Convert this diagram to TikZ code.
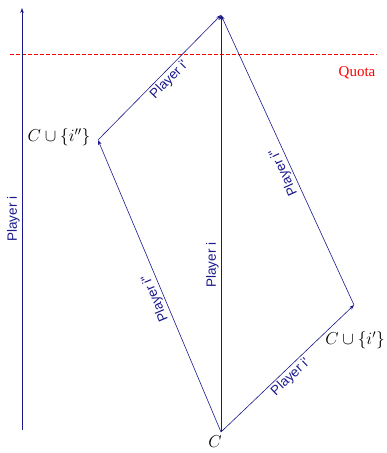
\documentclass[tikz,border=0pt]{standalone}
\usepackage{fontspec}
\setmainfont{Liberation Serif}
\setsansfont{Liberation Sans}
\usetikzlibrary{positioning, calc, arrows.meta}
\definecolor{navy}{RGB}{25,25,140}

\begin{document}
\begin{tikzpicture}[x=1pt, y=-1pt, line width=0.6pt,
    every node/.style={font=\fontsize{18}{20}\selectfont},
    edge/.style={draw=navy, -{Stealth[length=5pt, width=3.6pt]}},
    player/.style={font=\sffamily\fontsize{13.5}{15}\selectfont, text=navy, sloped, allow upside down, inner sep=2pt}]
    \useasboundingbox (0,0) rectangle (387,453);

    \coordinate (C) at (221,432);
    \coordinate (L) at (98,140);
    \coordinate (R) at (354,305);
    \coordinate (T) at (221,15);
    \coordinate (a0) at (22,430);
    \coordinate (a1) at (22,8);

    % quota
    \draw[red, dash pattern=on 4pt off 2pt] (10,54) -- (377,54);
    \node[text=red, font=\fontsize{15}{17}\selectfont] (quota) at (357,73) {Quota};

    % coalitions
    \node[anchor=north] (cC) at (215,432) {$C$};
    \node[anchor=east] (cL) at (94,137) {$C\cup\{i''\}$};
    \node (cR) at (355,340) {$C\cup\{i'\}$};

    % players
    \draw[edge] (a0) -- node[player, above] {Player i} (a1);
    \draw[edge] (C) -- node[player, above, pos=0.4] {Player i} (T);
    \draw[edge] (C) -- node[player, above, pos=0.47] {Player i\textquotesingle\textquotesingle} (L);
    \draw[edge] (L) -- node[player, below, pos=0.53] {Player i\textquotesingle} (T);
    \draw[edge] (C) -- node[player, below, pos=0.48] {Player i\textquotesingle} (R);
    \draw[edge] (R) -- node[player, above, pos=0.47] {Player i\textquotesingle\textquotesingle} (T);
\end{tikzpicture}
\end{document}
